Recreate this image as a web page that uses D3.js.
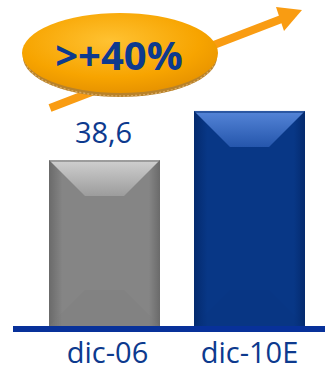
<!DOCTYPE html>
<html><head><meta charset="utf-8">
<script src="https://cdn.jsdelivr.net/npm/d3@7"></script>
<style>html,body{margin:0;padding:0;background:#fff;}svg{display:block;}</style>
</head><body>
<script>
const categories = ["dic-06", "dic-10E"];
const values = [38.6, 50.0];
const valueLabels = ["38,6", ""];
const badgeText = ">+40%";

const W = 325, H = 371;
const svg = d3.select("body").append("svg").attr("width", W).attr("height", H);
const defs = svg.append("defs");

const x = d3.scaleBand().domain(categories).range([49, 305]).paddingInner(34/145).paddingOuter(0);
const y = d3.scaleLinear().domain([0, 38.6]).range([326, 160]);

const palettes = [
  {body:"#858585", dark:"#6a6a6a", light:"#d0d0d0", mid:"#9c9c9c", bot:"#7c7c7c"},
  {body:"#083786", dark:"#042a6e", light:"#5585d8", mid:"#2556ac", bot:"#06337e"}
];
palettes.forEach((p,i)=>{
  const g = defs.append("linearGradient").attr("id","side"+i).attr("x1",0).attr("x2",1).attr("y1",0).attr("y2",0);
  g.append("stop").attr("offset","0").attr("stop-color",p.dark);
  g.append("stop").attr("offset","0.12").attr("stop-color",p.body);
  g.append("stop").attr("offset","0.9").attr("stop-color",p.body);
  g.append("stop").attr("offset","1").attr("stop-color",p.dark);
  const t = defs.append("linearGradient").attr("id","top"+i).attr("x1",0).attr("x2",0).attr("y1",0).attr("y2",1);
  t.append("stop").attr("offset","0").attr("stop-color",p.light);
  t.append("stop").attr("offset","1").attr("stop-color",p.mid);
});

// arrow (behind badge)
const arrowColor = "#f99c12";
svg.append("line").attr("x1",50).attr("y1",108).attr("x2",284).attr("y2",18)
  .attr("stroke",arrowColor).attr("stroke-width",8);
svg.append("polygon").attr("points","276,7 302,10 284,31").attr("fill",arrowColor);

// bars
const bars = svg.selectAll("g.bar").data(categories).join("g").attr("class","bar");
bars.each(function(c,i){
  const g = d3.select(this);
  const x0 = x(c), bw = x.bandwidth(), y0 = y(values[i]), y1 = y(0);
  const p = palettes[i];
  g.append("rect").attr("x",x0).attr("y",y0).attr("width",bw).attr("height",y1-y0).attr("fill","url(#side"+i+")");
  const d = 36;
  g.append("polygon").attr("points",`${x0},${y0} ${x0+bw},${y0} ${x0+bw-d},${y0+d} ${x0+d},${y0+d}`)
    .attr("fill","url(#top"+i+")");
  g.append("polygon").attr("points",`${x0},${y1} ${x0+bw},${y1} ${x0+bw-d},${y1-d} ${x0+d},${y1-d}`)
    .attr("fill",p.bot).attr("opacity",0.25);
  g.append("rect").attr("x",x0).attr("y",y0).attr("width",bw).attr("height",2).attr("fill",p.dark).attr("opacity",0.5);
});

// value labels
svg.selectAll("text.val").data(categories).join("text").attr("class","val")
  .attr("x",c=>x(c)+x.bandwidth()/2 - 1)
  .attr("y",(c,i)=>y(values[i]) - 17)
  .attr("text-anchor","middle")
  .attr("font-family","'Open Sans', sans-serif").attr("font-size",29)
  .attr("fill","#0d3a8e")
  .text((c,i)=>valueLabels[i]);

// baseline
svg.append("rect").attr("x",13).attr("y",326).attr("width",W-13).attr("height",6).attr("fill","#08319a");

// category labels
svg.selectAll("text.cat").data(categories).join("text").attr("class","cat")
  .attr("x",(c,i)=>x(c)+x.bandwidth()/2 + (i===0?3:0))
  .attr("y",363)
  .attr("text-anchor","middle")
  .attr("font-family","'Open Sans', sans-serif").attr("font-size",29)
  .attr("fill","#0d3a8e")
  .text(c=>c);

// badge (coin)
const rg = defs.append("radialGradient").attr("id","coin").attr("cx","0.45").attr("cy","0.35").attr("r","0.65");
rg.append("stop").attr("offset","0").attr("stop-color","#ffc232");
rg.append("stop").attr("offset","0.7").attr("stop-color","#f7a400");
rg.append("stop").attr("offset","1").attr("stop-color","#e89400");
svg.append("ellipse").attr("cx",120).attr("cy",57).attr("rx",97).attr("ry",40).attr("fill","#b8822a");
svg.append("ellipse").attr("cx",120).attr("cy",58).attr("rx",95).attr("ry",38)
  .attr("fill","none").attr("stroke","#d8a860").attr("stroke-width",1.5).attr("stroke-dasharray","2,2");
svg.append("ellipse").attr("cx",120).attr("cy",53).attr("rx",98).attr("ry",40).attr("fill","url(#coin)");
svg.append("text").attr("x",119).attr("y",70).attr("text-anchor","middle")
  .attr("font-family","'Open Sans', sans-serif").attr("font-weight","bold").attr("font-size",40)
  .attr("fill","#0d3a8e").text(badgeText);
</script>
</body></html>
